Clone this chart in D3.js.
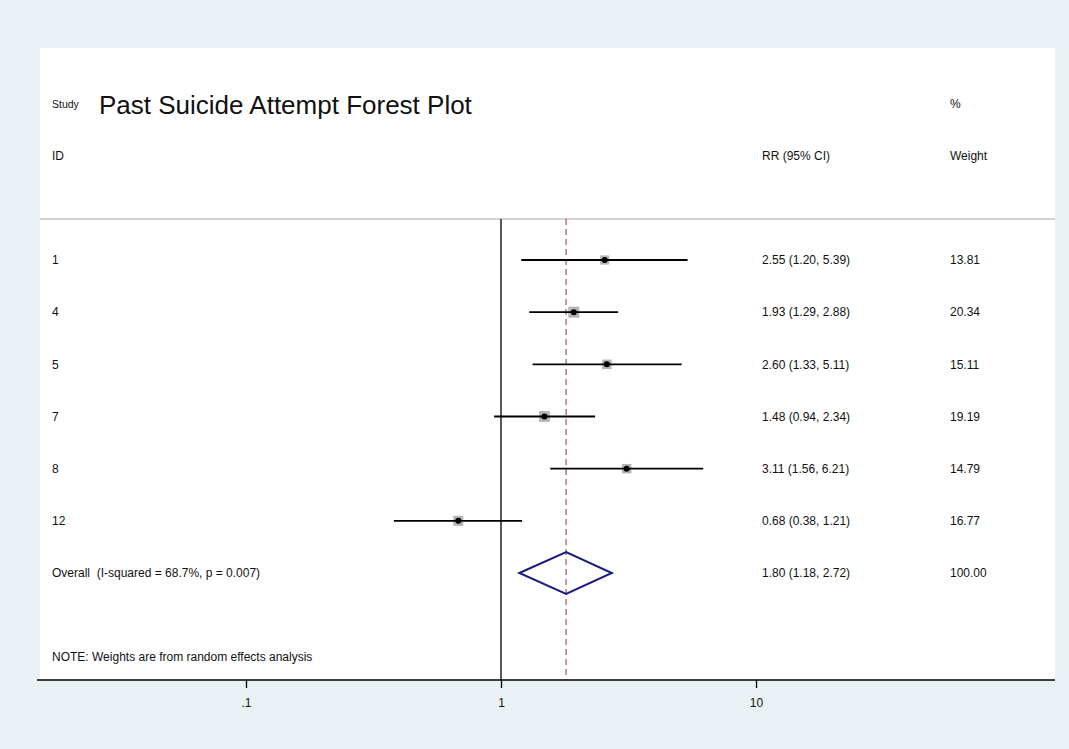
<!DOCTYPE html>
<html>
<head>
<meta charset="utf-8">
<script src="https://cdn.jsdelivr.net/npm/d3@7"></script>
<style>
  html, body { margin: 0; padding: 0; background: #eaf1f4; }
  svg { display: block; font-family: "Liberation Sans", Arial, sans-serif; }
  text { white-space: pre; fill: #111; }
</style>
</head>
<body>
<svg id="chart" width="1069" height="749"></svg>
<script>
// Study-level relative risks with 95% confidence intervals and random-effects weights
const studyIds   = ["1", "4", "5", "7", "8", "12"];
const rr         = [2.55, 1.93, 2.60, 1.48, 3.11, 0.68];
const ciLow      = [1.20, 1.29, 1.33, 0.94, 1.56, 0.38];
const ciHigh     = [5.39, 2.88, 5.11, 2.34, 6.21, 1.21];
const weights    = [13.81, 20.34, 15.11, 19.19, 14.79, 16.77];

// Pooled estimate
const overallLabel = "Overall  (I-squared = 68.7%, p = 0.007)";
const overallRR    = 1.80;
const overallLow   = 1.18;
const overallHigh  = 2.72;
const overallWeight = 100.00;

// Axis ticks
const tickValues = [0.1, 1, 10];
const tickLabels = [".1", "1", "10"];

const svg = d3.select("#chart");

// Plot region (white panel)
const panel = { left: 40, top: 48, right: 1055, bottom: 680 };
svg.append("rect")
  .attr("x", panel.left).attr("y", panel.top)
  .attr("width", panel.right - panel.left)
  .attr("height", panel.bottom - panel.top)
  .attr("fill", "#ffffff");

const x = d3.scaleLog().domain([0.1, 10]).range([246, 756]);

const rowKeys = studyIds.concat(["Overall"]);
const y = d3.scalePoint().domain(rowKeys).range([260, 573]);

const fmt = d3.format(".2f");
const fs = 12;

// Header text
const labelX = 52, ciX = 762, wX = 950;
svg.append("text").attr("x", labelX).attr("y", 108).attr("font-size", 10.5).text("Study");
svg.append("text").attr("x", 99).attr("y", 114).attr("font-size", 26).text("Past Suicide Attempt Forest Plot");
svg.append("text").attr("x", labelX).attr("y", 160).attr("font-size", fs).text("ID");
svg.append("text").attr("x", ciX).attr("y", 160).attr("font-size", fs).text("RR (95% CI)");
svg.append("text").attr("x", wX).attr("y", 108).attr("font-size", fs).text("%");
svg.append("text").attr("x", wX).attr("y", 160).attr("font-size", fs).text("Weight");

// Header separator
svg.append("line")
  .attr("x1", panel.left).attr("x2", panel.right)
  .attr("y1", 219).attr("y2", 219)
  .attr("stroke", "#c4c4c4").attr("stroke-width", 1.5);

// Null line at RR = 1
svg.append("line")
  .attr("x1", x(1)).attr("x2", x(1))
  .attr("y1", 219).attr("y2", panel.bottom)
  .attr("stroke", "#000").attr("stroke-width", 1.3);

// Pooled estimate reference line
svg.append("line")
  .attr("x1", x(overallRR)).attr("x2", x(overallRR))
  .attr("y1", 219).attr("y2", panel.bottom)
  .attr("stroke", "#a0606e").attr("stroke-width", 1.3)
  .attr("stroke-dasharray", "6,4");

const studies = studyIds.map((id, i) => ({
  id, rr: rr[i], lo: ciLow[i], hi: ciHigh[i], w: weights[i]
}));

const boxSide = d => 2.45 * Math.sqrt(d.w);

const g = svg.append("g");
// Weight boxes
g.selectAll("rect.box").data(studies).join("rect")
  .attr("class", "box")
  .attr("x", d => x(d.rr) - boxSide(d) / 2)
  .attr("y", d => y(d.id) - boxSide(d) / 2)
  .attr("width", boxSide).attr("height", boxSide)
  .attr("fill", "#b4b4b4");
// Confidence intervals
g.selectAll("line.ci").data(studies).join("line")
  .attr("class", "ci")
  .attr("x1", d => x(d.lo)).attr("x2", d => x(d.hi))
  .attr("y1", d => y(d.id)).attr("y2", d => y(d.id))
  .attr("stroke", "#000").attr("stroke-width", 1.8);
// Point estimates
g.selectAll("circle.pt").data(studies).join("circle")
  .attr("class", "pt")
  .attr("cx", d => x(d.rr)).attr("cy", d => y(d.id))
  .attr("r", 3).attr("fill", "#000");

// Row text
g.selectAll("text.id").data(studies).join("text")
  .attr("x", labelX).attr("y", d => y(d.id)).attr("dy", "0.36em")
  .attr("font-size", fs).text(d => d.id);
g.selectAll("text.ci").data(studies).join("text")
  .attr("x", ciX).attr("y", d => y(d.id)).attr("dy", "0.36em")
  .attr("font-size", fs)
  .text(d => `${fmt(d.rr)} (${fmt(d.lo)}, ${fmt(d.hi)})`);
g.selectAll("text.w").data(studies).join("text")
  .attr("x", wX).attr("y", d => y(d.id)).attr("dy", "0.36em")
  .attr("font-size", fs).text(d => fmt(d.w));

// Pooled diamond
const yo = y("Overall");
const dh = 21;
svg.append("path")
  .attr("d", `M${x(overallLow)},${yo} L${x(overallRR)},${yo - dh} L${x(overallHigh)},${yo} L${x(overallRR)},${yo + dh} Z`)
  .attr("fill", "none").attr("stroke", "#1a1a80").attr("stroke-width", 2);

svg.append("text").attr("x", labelX).attr("y", yo).attr("dy", "0.36em")
  .attr("font-size", fs).text(overallLabel);
svg.append("text").attr("x", ciX).attr("y", yo).attr("dy", "0.36em")
  .attr("font-size", fs).text(`${fmt(overallRR)} (${fmt(overallLow)}, ${fmt(overallHigh)})`);
svg.append("text").attr("x", wX).attr("y", yo).attr("dy", "0.36em")
  .attr("font-size", fs).text(fmt(overallWeight));

svg.append("text").attr("x", labelX).attr("y", 657).attr("dy", "0.36em")
  .attr("font-size", fs).text("NOTE: Weights are from random effects analysis");

// X axis
svg.append("line")
  .attr("x1", 37).attr("x2", panel.right)
  .attr("y1", panel.bottom).attr("y2", panel.bottom)
  .attr("stroke", "#000").attr("stroke-width", 1.5);

const axis = d3.axisBottom(x)
  .tickValues(tickValues)
  .tickFormat((d, i) => tickLabels[i])
  .tickSize(8).tickPadding(10);
const ax = svg.append("g").attr("transform", `translate(0,${panel.bottom})`).call(axis);
ax.select(".domain").remove();
ax.selectAll(".tick line").attr("stroke", "#000").attr("stroke-width", 1.3);
ax.selectAll(".tick text").attr("font-size", fs).attr("fill", "#111")
  .attr("font-family", "'Liberation Sans', Arial, sans-serif");
</script>
</body>
</html>
